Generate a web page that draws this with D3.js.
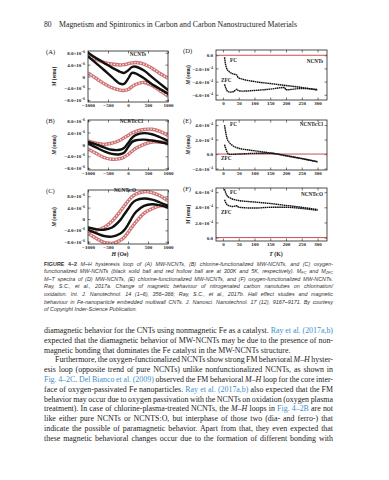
<!DOCTYPE html>
<html lang="en">
<head>
    <meta charset="UTF-8">
    <title>Figure 4-2 page</title>
    <script src="https://d3js.org/d3.v7.min.js"></script>
    <style>
        body { margin: 0; background: #fff; }
        svg { display: block; }
    </style>
</head>
<body>
<svg id="page" width="389" height="480"></svg>
<script>
// M-H loops, field in Oe, moment in 1e-6 emu
const fieldOe = [-1000, -800, -600, -400, -200, -100, 0, 100, 200, 400, 600, 800, 1000];

const aBlackUp = [8.0, 6.2, 4.6, 3.0, 1.6, 1.2, 2.0, 3.2, 3.3, 2.0, -0.2, -2.4, -4.6];
const aBlackDn = [6.8, 4.5, 2.2, -0.2, -2.4, -2.5, -0.8, 1.2, 1.0, -0.6, -2.6, -4.2, -5.8];
const aRedUp   = [7.0, 5.8, 4.8, 4.2, 3.9, 4.0, 4.3, 4.6, 4.7, 4.2, 2.8, 1.0, -0.6];
const aRedDn   = [1.2, -0.6, -2.4, -3.8, -4.6, -4.7, -4.4, -3.4, -2.6, -2.0, -3.0, -4.8, -6.6];

const bBlackUp = [0.8, 0.0, -1.0, -1.8, -1.8, -1.2, 0.4, 2.2, 3.2, 3.8, 3.4, 2.4, 1.2];
const bBlackDn = [0.3, -1.0, -2.3, -3.2, -3.3, -2.8, -1.0, 0.8, 1.4, 1.6, 1.3, 0.8, 0.2];
const bRedUp   = [1.2, 0.4, 0.0, 0.4, 1.4, 2.2, 3.0, 3.8, 4.4, 5.0, 5.1, 4.4, 3.0];
const bRedDn   = [-1.5, -3.0, -4.4, -5.0, -4.8, -4.3, -3.4, -2.3, -1.3, 0.0, 0.8, 0.8, 0.5];

const cBlackUp = [-3.0, -3.6, -3.8, -3.0, -0.5, 1.5, 3.5, 5.5, 6.6, 7.2, 6.8, 5.8, 4.6];
const cBlackDn = [-3.8, -5.0, -6.0, -6.2, -5.2, -4.0, -2.0, 0.5, 2.5, 4.6, 5.2, 4.8, 4.0];
const cRedUp   = [-4.4, -4.0, -3.0, -0.8, 2.6, 4.5, 6.3, 7.8, 8.8, 9.6, 9.3, 8.2, 6.4];
const cRedDn   = [-5.0, -6.8, -8.2, -8.6, -7.6, -6.5, -4.8, -2.8, -1.0, 2.0, 3.6, 4.6, 4.8];

// M-T curves, temperature in K, moment in 1e-4 emu
const dFcT  = [5, 8, 12, 20, 30, 44, 48, 60, 100, 150, 200, 250, 300];
const dFcM  = [-0.3, -1.3, -2.0, -2.5, -2.8, -3.0, -3.4, -3.6, -4.0, -4.3, -4.6, -4.9, -5.3];
const dZfcT = [5, 10, 15, 22, 35, 44, 48, 60, 100, 150, 195, 200, 250, 300];
const dZfcM = [-4.4, -5.1, -5.5, -5.6, -5.5, -5.15, -5.35, -5.45, -5.35, -5.15, -4.9, -5.25, -5.05, -5.2];

const eFcT  = [5, 8, 12, 20, 30, 50, 75, 100, 150, 200, 250, 300];
const eFcM  = [4.0, 3.2, 2.3, 1.6, 1.2, 0.8, 0.6, 0.45, 0.15, -0.2, -0.6, -1.05];
const eZfcT = [5, 8, 12, 18, 25, 50, 100, 150, 200, 250, 300];
const eZfcM = [1.3, 0.9, 0.4, 0.0, -0.05, 0.0, 0.1, 0.12, -0.25, -0.65, -1.08];

const fFcT  = [5, 8, 12, 20, 30, 50, 100, 150, 200, 250, 300];
const fFcM  = [6.4, 6.0, 5.6, 5.3, 5.1, 4.9, 4.7, 4.5, 4.25, 4.0, 3.7];
const fZfcT = [5, 8, 12, 20, 30, 45, 50, 100, 150, 200, 250, 300];
const fZfcM = [5.0, 4.7, 4.4, 4.2, 4.1, 4.2, 4.0, 3.9, 4.0, 4.0, 3.85, 3.6];

const mhTicksX = [-1000, -500, 0, 500, 1000];
const mhTicksY = [-8, -4, 0, 4, 8];
const mtTicksX = [0, 50, 100, 150, 200, 250, 300];

const svg = d3.select("#page");
const serif = "'Liberation Serif', 'DejaVu Serif', serif";
const sans = "'Liberation Sans', Arial, sans-serif";
const blue = "#3f8fc9";

// header line
svg.append("text").attr("x", 44).attr("y", 26.5)
    .attr("font-family", serif).attr("font-size", 7.6).attr("fill", "#222")
    .text("80");
svg.append("text").attr("x", 59).attr("y", 26.5)
    .attr("font-family", serif).attr("font-size", 7.6).attr("fill", "#222")
    .attr("textLength", 238).attr("lengthAdjust", "spacingAndGlyphs")
    .text("Magnetism and Spintronics in Carbon and Carbon Nanostructured Materials");

function tickLabel(sel, exp, zeroText) {
    sel.selectAll(".tick text").each(function (d) {
        const t = d3.select(this).text(null);
        if (d === 0) { t.text(zeroText); return; }
        t.append("tspan").text((d < 0 ? "\u2212" : "") + Math.abs(d).toFixed(1) + "\u00d710");
        t.append("tspan").attr("dy", -2).attr("font-size", 3.4).text("\u2212" + exp);
    });
}

function framePanel(p) {
    const g = svg.append("g");
    const x = d3.scaleLinear().domain(p.xDomain).range(p.xRange);
    const y = d3.scaleLinear().domain(p.yDomain).range(p.yRange);
    const [x0, x1] = p.xRange, [y0, y1] = [p.yRange[1], p.yRange[0]];

    const clipId = "clip" + p.key;
    svg.append("clipPath").attr("id", clipId).append("rect")
        .attr("x", x0).attr("y", y0).attr("width", x1 - x0).attr("height", y1 - y0);

    g.append("g").attr("transform", `translate(0,${y1})`)
        .call(d3.axisBottom(x).tickValues(p.xTicks).tickSize(-2.5).tickPadding(1.8)
            .tickFormat(d => d < 0 ? "\u2212" + Math.abs(d) : d));
    const ay = g.append("g").attr("transform", `translate(${x0},0)`)
        .call(d3.axisLeft(y).tickValues(p.yTicks).tickSize(-2.5).tickPadding(3));
    g.append("g").attr("transform", `translate(0,${y0})`)
        .call(d3.axisTop(x).tickValues(p.xTicks).tickSize(-2.5).tickFormat(""));
    g.append("g").attr("transform", `translate(${x1},0)`)
        .call(d3.axisRight(y).tickValues(p.yTicks).tickSize(-2.5).tickFormat(""));
    tickLabel(ay, p.exp, p.zeroText);

    g.selectAll(".domain").remove();
    g.selectAll(".tick line").attr("stroke", "#222").attr("stroke-width", 0.6);
    g.selectAll(".tick text").attr("font-family", serif).attr("font-weight", "bold")
        .attr("font-size", 5).attr("fill", "#222");

    const plot = g.append("g").attr("clip-path", `url(#${clipId})`);
    g.append("rect").attr("x", x0).attr("y", y0).attr("width", x1 - x0).attr("height", y1 - y0)
        .attr("fill", "none").attr("stroke", "#222").attr("stroke-width", 0.8);

    // panel letter, name and y title
    svg.append("text").attr("x", p.letterX).attr("y", y0 + 3)
        .attr("font-family", serif).attr("font-size", 6.6).attr("fill", "#222").text(p.letter);
    svg.append("text").attr("x", p.nameX).attr("y", p.nameY).attr("text-anchor", "end")
        .attr("font-family", serif).attr("font-weight", "bold").attr("font-size", 5.2)
        .attr("fill", "#222").text(p.name);
    const yt = svg.append("text")
        .attr("transform", `translate(${p.titleX},${(y0 + y1) / 2}) rotate(-90)`)
        .attr("text-anchor", "middle").attr("font-family", serif).attr("font-weight", "bold")
        .attr("font-size", 5.4).attr("fill", "#222");
    yt.append("tspan").attr("font-style", "italic").text("M");
    yt.append("tspan").text(" (emu)");
    return { x, y, plot };
}

// hysteresis panels
const line = (x, y) => d3.line().x(d => x(d[0])).y(d => y(d[1])).curve(d3.curveCatmullRom);
const mhPanels = [
    { key: "A", letter: "(A)", name: "NCNTs", nameX: 146, nameY: 56, yRange: [102, 51], yDomain: [-8.6, 8.6],
      black: [aBlackUp, aBlackDn], red: [aRedUp, aRedDn] },
    { key: "B", letter: "(B)", name: "NCNTs:Cl", nameX: 143, nameY: 123, yRange: [170, 120], yDomain: [-8.6, 8.2],
      black: [bBlackUp, bBlackDn], red: [bRedUp, bRedDn] },
    { key: "C", letter: "(C)", name: "NCNTs:O", nameX: 136, nameY: 192, yRange: [244, 190], yDomain: [-8.8, 10.2],
      black: [cBlackUp, cBlackDn], red: [cRedUp, cRedDn] }
];
mhPanels.forEach(p => {
    Object.assign(p, { xDomain: [-1000, 1000], xRange: [88, 168], xTicks: mhTicksX, yTicks: mhTicksY,
        exp: "6", zeroText: "0", letterX: 46, titleX: 56 });
    const { x, y, plot } = framePanel(p);
    const l = line(x, y);
    p.red.forEach(vals => {
        const pts = fieldOe.map((h, i) => [h, vals[i]]);
        plot.append("path").attr("d", l(pts)).attr("fill", "none")
            .attr("stroke", "#cf7474").attr("stroke-width", 3.4);
        plot.append("path").attr("d", l(pts)).attr("fill", "none")
            .attr("stroke", "#fbeeee").attr("stroke-width", 1.3).attr("stroke-dasharray", "1.4 1.6");
    });
    p.black.forEach(vals => {
        const pts = fieldOe.map((h, i) => [h, vals[i]]);
        plot.append("path").attr("d", l(pts)).attr("fill", "none")
            .attr("stroke", "#111").attr("stroke-width", 2.4).attr("stroke-linecap", "round");
    });
});

// M-T panels
const mtPanels = [
    { key: "D", letter: "(D)", name: "NCNTs", nameX: 323, nameY: 63, yRange: [100, 50], yDomain: [-6.8, 0.8],
      yTicks: [0, -2, -4, -6], fc: [dFcT, dFcM], zfc: [dZfcT, dZfcM], fcY: 62, zfcY: 82 },
    { key: "E", letter: "(E)", name: "NCNTs:Cl", nameX: 323, nameY: 126, yRange: [170, 120], yDomain: [-2.2, 4.7],
      yTicks: [-2, 0, 2, 4], fc: [eFcT, eFcM], zfc: [eZfcT, eZfcM], fcY: 126, zfcY: 160 },
    { key: "F", letter: "(F)", name: "NCNTs:O", nameX: 323, nameY: 196, yRange: [241, 188], yDomain: [-0.45, 6.55],
      yTicks: [0, 2, 4, 6], fc: [fFcT, fFcM], zfc: [fZfcT, fZfcM], fcY: 194, zfcY: 214 }
];
mtPanels.forEach(p => {
    Object.assign(p, { xDomain: [-22, 330], xRange: [216, 327], xTicks: mtTicksX,
        exp: "4", zeroText: "0.0", letterX: 183, titleX: 190 });
    const { x, y, plot } = framePanel(p);
    plot.append("line").attr("x1", 216).attr("x2", 327).attr("y1", y(0)).attr("y2", y(0))
        .attr("stroke", "#c23b3b").attr("stroke-width", 0.9);
    const l = d3.line().x(d => x(d[0])).y(d => y(d[1])).curve(d3.curveMonotoneX);
    [p.fc, p.zfc].forEach(([ts, ms]) => {
        plot.append("path").attr("d", l(ts.map((t, i) => [t, ms[i]]))).attr("fill", "none")
            .attr("stroke", "#111").attr("stroke-width", 1.4).attr("stroke-dasharray", "1.6 0.5");
    });
    svg.append("text").attr("x", 230).attr("y", p.fcY).attr("font-family", serif)
        .attr("font-weight", "bold").attr("font-size", 5.2).attr("fill", "#222").text("FC");
    svg.append("text").attr("x", 221).attr("y", p.zfcY).attr("font-family", serif)
        .attr("font-weight", "bold").attr("font-size", 5.2).attr("fill", "#222").text("ZFC");
});

// x axis titles
[["H", " (Oe)", 120], ["T", " (K)", 276]].forEach(([v, u, cx]) => {
    const t = svg.append("text").attr("x", cx).attr("y", 256).attr("text-anchor", "middle")
        .attr("font-family", serif).attr("font-weight", "bold").attr("font-size", 5.8).attr("fill", "#222");
    t.append("tspan").attr("font-style", "italic").text(v);
    t.append("tspan").text(u);
});

// caption and body text, one entry per printed line
const captionLines = [
    [["FIGURE 4\u20132 ", "bold"], ["M\u2013H hysteresis loop of (A) MW-NCNTs, (B) chlorine-functionalized MW-NCNTs, and (C) oxygen-"]],
    [["functionalized MW-NCNTs (black solid ball and red hollow ball are at 300K and 5K, respectively). M"], ["FC", "sub"], [" and M"], ["ZFC", "sub"]],
    [["M\u2013T spectra of (D) MW-NCNTs, (E) chlorine-functionalized MW-NCNTs, and (F) oxygen-functionalized MW-NCNTs."]],
    [["Ray, S.C., et al., 2017a. Change of magnetic behaviour of nitrogenated carbon nanotubes on chlorination/"]],
    [["oxidation. Int. J. Nanotechnol. 14 (1\u20136), 356\u2013366; Ray, S.C., et al., 2017b. Hall effect studies and magnetic"]],
    [["behaviour in Fe-nanoparticle embedded multiwall CNTs. J. Nanosci. Nanotechnol. 17 (12), 9167\u20139171. By courtesy"]],
    [["of Copyright Inder-Science Publication."]]
];
const bodyLines = [
    [["diamagnetic behavior for the CNTs using nonmagnetic Fe as a catalyst. "], ["Ray et al. (2017a,b)", "blue"]],
    [["expected that the diamagnetic behavior of MW-NCNTs may be due to the presence of non-"]],
    [["magnetic bonding that dominates the Fe catalyst in the MW-NCNTs structure."]],
    [["Furthermore, the oxygen-functionalized NCNTs show strong FM behavioral "], ["M\u2013H", "italic"], [" hyster-"]],
    [["esis loop (opposite trend of pure NCNTs) unlike nonfunctionalized NCNTs, as shown in"]],
    [["Fig. 4\u20132C", "blue"], [". "], ["Del Bianco et al. (2009)", "blue"], [" observed the FM behavioral "], ["M\u2013H", "italic"], [" loop for the core inter-"]],
    [["face of oxygen-passivated Fe nanoparticles. "], ["Ray et al. (2017a,b)", "blue"], [" also expected that the FM"]],
    [["behavior may occur due to oxygen passivation with the NCNTs on oxidation (oxygen plasma"]],
    [["treatment). In case of chlorine-plasma-treated NCNTs, the "], ["M\u2013H", "italic"], [" loops in "], ["Fig. 4\u20132B", "blue"], [" are not"]],
    [["like either pure NCNTs or NCNTS:O, but interphase of those two (dia- and ferro-) that"]],
    [["indicate the possible of paramagnetic behavior. Apart from that, they even expected that"]],
    [["these magnetic behavioral changes occur due to the formation of different bonding with"]]
];

function writeLine(segs, x, y, width, opts) {
    const t = svg.append("text").attr("x", x).attr("y", y)
        .attr("font-family", opts.family).attr("font-size", opts.size)
        .attr("font-style", opts.italic ? "italic" : "normal").attr("fill", opts.color);
    let shifted = false;
    segs.forEach(([s, kind]) => {
        const sp = t.append("tspan").text(s);
        if (shifted) { sp.attr("dy", -1.2); shifted = false; }
        if (kind === "bold") sp.attr("font-weight", "bold").attr("font-style", "normal");
        if (kind === "blue") sp.attr("fill", blue);
        if (kind === "italic") sp.attr("font-style", "italic");
        if (kind === "sub") { sp.attr("dy", 1.2).attr("font-size", opts.size * 0.7); shifted = true; }
    });
    if (width) {
        const len = t.node().getComputedTextLength();
        const gaps = segs.map(d => d[0]).join("").split(" ").length - 1;
        if (gaps > 0) t.attr("word-spacing", (width - len) / gaps);
    }
}

captionLines.forEach((segs, i) => {
    writeLine(segs, 44, 265.5 + i * 7.6, i < 6 ? 289 : 0,
        { family: sans, size: 5.4, italic: true, color: "#333" });
});
bodyLines.forEach((segs, i) => {
    const indent = i === 3 ? 11 : 0;
    const justify = (i === 2 || i === 11) ? 0 : 289 - indent;
    writeLine(segs, 44 + indent, 333 + i * 9.8, i === 11 ? 289 : justify,
        { family: serif, size: 7.9, italic: false, color: "#222" });
});
</script>
</body>
</html>
